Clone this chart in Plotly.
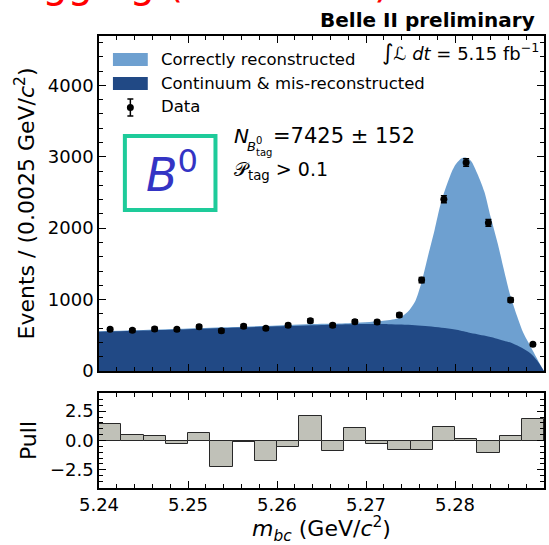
import plotly.graph_objects as go

# ---------------- data ----------------
bin_centers = [5.24125, 5.24375, 5.24625, 5.24875, 5.25125, 5.25375, 5.25625, 5.25875,
               5.26125, 5.26375, 5.26625, 5.26875, 5.27125, 5.27375, 5.27625, 5.27875,
               5.28125, 5.28375, 5.28625, 5.28875]
data_counts = [583, 569, 587, 583, 620, 563, 625, 597, 639, 704,
               639, 690, 685, 783, 1273, 2406, 2919, 2074, 993, 373]
data_errors = [24, 24, 24, 24, 25, 24, 25, 24, 25, 27,
               25, 26, 26, 28, 36, 49, 54, 46, 32, 19]
pulls = [1.44, 0.45, 0.38, -0.32, 0.63, -2.30, -0.12, -1.72, -0.52, 2.10,
         -0.89, 1.06, -0.32, -0.80, -0.80, 1.15, 0.17, -1.09, 0.40, 1.85]

total_x = [5.2400, 5.2450, 5.2500, 5.2550, 5.2600, 5.2650, 5.2680, 5.2717, 5.2736,
           5.2747, 5.2755, 5.2762, 5.2769, 5.2777, 5.2784, 5.2792, 5.2799, 5.2807,
           5.2812, 5.2818, 5.2825, 5.2833, 5.2840, 5.2848, 5.2855, 5.2862, 5.2870,
           5.2877, 5.2885, 5.2892, 5.2898, 5.2900]
total_y = [556, 574, 594, 615, 638, 660, 670, 699, 737,
           830, 969, 1226, 1576, 1972, 2345, 2648, 2857, 2975,
           2989, 2941, 2765, 2508, 2158, 1786, 1413, 1063, 759,
           527, 340, 178, 38, 0]

bkg_x = [5.2400, 5.2450, 5.2500, 5.2550, 5.2600, 5.2650, 5.2680, 5.2705, 5.2725,
         5.2740, 5.2755, 5.2770, 5.2785, 5.2800, 5.2815, 5.2825, 5.2835, 5.2845,
         5.2855, 5.2865, 5.2875, 5.2885, 5.2892, 5.2897, 5.2900]
bkg_y = [550, 567, 585, 605, 625, 645, 655, 658, 656,
         650, 640, 625, 605, 580, 540, 515, 490, 460,
         425, 385, 325, 245, 150, 60, 0]

LIGHT = "rgb(110,160,208)"
DARK = "rgb(33,73,133)"
FONT = "DejaVu Sans"

# ---------------- figure ----------------
W, H = 549, 545
ML, MR, MT, MB = 99, 3, 36, 57
PW, PH = W - ML - MR, H - MT - MB


def px(x):
    return (x - ML) / PW


def py(y):
    return (H - MB - y) / PH


fig = go.Figure()

fig.add_trace(go.Scatter(x=total_x, y=total_y, mode="lines", line=dict(width=0, shape="spline", smoothing=0.8),
                         fill="tozeroy", fillcolor=LIGHT, xaxis="x", yaxis="y", showlegend=False,
                         hoverinfo="skip"))
fig.add_trace(go.Scatter(x=bkg_x, y=bkg_y, mode="lines", line=dict(width=0, shape="spline", smoothing=0.8),
                         fill="tozeroy", fillcolor=DARK, xaxis="x", yaxis="y", showlegend=False,
                         hoverinfo="skip"))
fig.add_trace(go.Scatter(x=bin_centers, y=data_counts, mode="markers",
                         marker=dict(color="black", size=7, symbol="circle"),
                         error_y=dict(type="data", array=data_errors, color="black", thickness=1.5, width=3),
                         xaxis="x", yaxis="y", showlegend=False))

fig.add_trace(go.Bar(x=bin_centers, y=pulls, width=0.0025,
                     marker=dict(color="rgb(192,193,184)", line=dict(color="rgb(40,40,40)", width=1)),
                     xaxis="x2", yaxis="y2", showlegend=False))

main_bottom = py(371)
pull_top = py(393)

axis_common = dict(showline=True, linecolor="black", linewidth=1.5, mirror="allticks",
                   ticks="inside", ticklen=7, tickwidth=1, tickcolor="black",
                   showgrid=False, zeroline=False,
                   tickfont=dict(family=FONT, size=18, color="black"))
TITLE_FONT = dict(family=FONT, size=22, color="black")

fig.update_layout(
    width=W, height=H,
    margin=dict(l=ML, r=MR, t=MT, b=MB),
    paper_bgcolor="white", plot_bgcolor="white",
    bargap=0,
    xaxis=dict(domain=[0, 1], range=[5.24, 5.29], anchor="y", matches="x2", showticklabels=False,
               dtick=0.01, tick0=5.24,
               minor=dict(ticks="inside", ticklen=4, dtick=0.002, tick0=5.24, tickcolor="black"),
               **axis_common),
    yaxis=dict(domain=[main_bottom, 1], range=[0, 4690], anchor="x", dtick=1000,
               minor=dict(ticks="inside", ticklen=4, dtick=200, tickcolor="black"),
               title=dict(text="Events / (0.0025 GeV/<i>c</i><sup>2</sup>)", font=TITLE_FONT, standoff=7),
               **axis_common),
    xaxis2=dict(domain=[0, 1], range=[5.24, 5.29], anchor="y2", dtick=0.01, tick0=5.24, tickformat=".2f",
                minor=dict(ticks="inside", ticklen=4, dtick=0.002, tick0=5.24, tickcolor="black"),
                title=dict(text="<i>m<sub>bc</sub></i> (GeV/<i>c</i><sup>2</sup>)", font=TITLE_FONT, standoff=2),
                **axis_common),
    yaxis2=dict(domain=[0, pull_top], range=[-4.05, 4.05], anchor="x2",
                tickvals=[-2.5, 0, 2.5], ticktext=["\u22122.5", "0.0", "2.5"],
                minor=dict(ticks="inside", ticklen=4, dtick=0.5, tick0=0, tickcolor="black"),
                title=dict(text="Pull", font=TITLE_FONT, standoff=7),
                **axis_common),
)

shapes = []
annotations = []

# legend (drawn manually)
shapes.append(dict(type="rect", xref="paper", yref="paper", x0=px(113), x1=px(148), y0=py(66), y1=py(53),
                   fillcolor=LIGHT, line=dict(width=0)))
shapes.append(dict(type="rect", xref="paper", yref="paper", x0=px(113), x1=px(148), y0=py(90), y1=py(77),
                   fillcolor=DARK, line=dict(width=0)))
shapes.append(dict(type="line", xref="paper", yref="paper", x0=px(130.5), x1=px(130.5), y0=py(116), y1=py(99),
                   line=dict(color="black", width=1.5)))
for yy in (99, 116):
    shapes.append(dict(type="line", xref="paper", yref="paper", x0=px(127.5), x1=px(133.5), y0=py(yy), y1=py(yy),
                       line=dict(color="black", width=1.5)))
shapes.append(dict(type="circle", xref="paper", yref="paper", x0=px(127), x1=px(134), y0=py(111), y1=py(104),
                   fillcolor="black", line=dict(width=0)))
for txt, yy in (("Correctly reconstructed", 59), ("Continuum &amp; mis-reconstructed", 83), ("Data", 107)):
    annotations.append(dict(text=txt, xref="paper", yref="paper", x=px(159), y=py(yy), xanchor="left",
                            yanchor="middle", showarrow=False, font=dict(family=FONT, size=16.5, color="black")))

# luminosity
annotations.append(dict(text="<span style='font-size:22px'>\u222b</span><i>\u2112 dt</i> = 5.15 fb<sup>\u22121</sup>",
                        xref="paper", yref="paper",
                        x=px(543), y=py(52), xanchor="right", yanchor="middle", showarrow=False,
                        font=dict(family=FONT, size=18, color="black")))

# Belle II preliminary
annotations.append(dict(text="<b>Belle II preliminary</b>", xref="paper", yref="paper",
                        x=px(539), y=py(20), xanchor="right", yanchor="middle", showarrow=False,
                        font=dict(family=FONT, size=20, color="black")))

# red (cropped) title at the very top
annotations.append(dict(text="Flavor tagging (B\u2070 events)", xref="paper", yref="paper",
                        x=px(393), y=py(8), xanchor="right", yanchor="bottom", showarrow=False,
                        font=dict(family=FONT, size=40, color="red")))

# B0 box
shapes.append(dict(type="rect", xref="paper", yref="paper", x0=px(125), x1=px(216), y0=py(210), y1=py(136),
                   fillcolor="rgba(0,0,0,0)", line=dict(color="rgb(30,203,154)", width=4)))
annotations.append(dict(text="<i>B</i><sup>0</sup>", xref="paper", yref="paper", x=px(172), y=py(172),
                        xanchor="center", yanchor="middle", showarrow=False,
                        font=dict(family=FONT, size=46, color="rgb(52,52,196)")))

# N_{B0 tag} = 7425 +- 152
annotations.append(dict(text="<i>N</i>", xref="paper", yref="paper", x=px(233), y=py(136), xanchor="left",
                        yanchor="middle", showarrow=False, font=dict(family=FONT, size=20, color="black")))
annotations.append(dict(text="<i>B</i>", xref="paper", yref="paper", x=px(246), y=py(146), xanchor="left",
                        yanchor="middle", showarrow=False, font=dict(family=FONT, size=13, color="black")))
annotations.append(dict(text="0", xref="paper", yref="paper", x=px(255), y=py(140), xanchor="left",
                        yanchor="middle", showarrow=False, font=dict(family=FONT, size=10, color="black")))
annotations.append(dict(text="tag", xref="paper", yref="paper", x=px(255), y=py(152), xanchor="left",
                        yanchor="middle", showarrow=False, font=dict(family=FONT, size=10, color="black")))
annotations.append(dict(text="=7425 \u00b1 152", xref="paper", yref="paper", x=px(272), y=py(136),
                        xanchor="left", yanchor="middle", showarrow=False,
                        font=dict(family=FONT, size=21, color="black")))
# P_tag > 0.1
annotations.append(dict(text="\U0001D4AB<sub>tag</sub> &gt; 0.1", xref="paper", yref="paper", x=px(233),
                        y=py(170), xanchor="left", yanchor="middle", showarrow=False,
                        font=dict(family=FONT, size=19, color="black")))

fig.update_layout(shapes=shapes, annotations=annotations)

fig.write_html("out.html")
